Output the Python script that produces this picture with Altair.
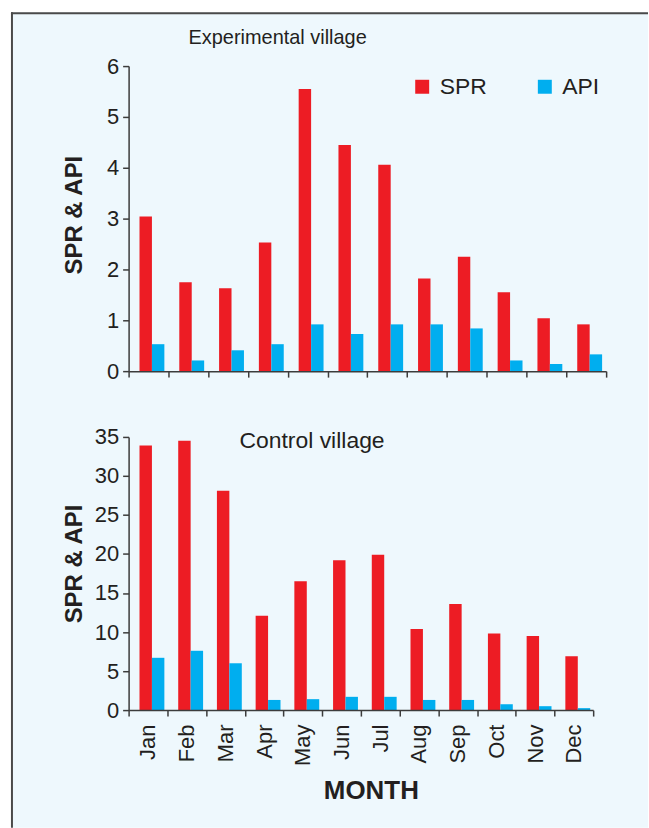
import altair as alt
import pandas as pd

# Monthly slide positivity rate (SPR) and annual parasite incidence (API)
months = ["Jan", "Feb", "Mar", "Apr", "May", "Jun",
          "Jul", "Aug", "Sep", "Oct", "Nov", "Dec"]
series = ["SPR", "API"]

exp_spr = [3.04, 1.75, 1.63, 2.53, 5.55, 4.45, 4.06, 1.82, 2.25, 1.55, 1.04, 0.92]
exp_api = [0.53, 0.21, 0.41, 0.53, 0.92, 0.73, 0.92, 0.92, 0.84, 0.21, 0.14, 0.33]

ctl_spr = [33.9, 34.5, 28.1, 12.1, 16.5, 19.2, 19.9, 10.4, 13.6, 9.8, 9.5, 6.9]
ctl_api = [6.7, 7.6, 6.0, 1.3, 1.4, 1.7, 1.7, 1.3, 1.3, 0.75, 0.5, 0.25]

RED = "#ED1C24"
BLUE = "#00AEEF"
PANEL_BG = "#EEF8FD"
INK = "#231F20"
AXIS = "#3C3C3C"
FONT = "Liberation Sans"


def long_table(spr, api):
    rows = []
    for m, s, a in zip(months, spr, api):
        rows.append({"month": m, "series": "SPR", "value": s})
        rows.append({"month": m, "series": "API", "value": a})
    return pd.DataFrame(rows)


def bars(df, width, height, ymax, ystep, show_labels, legend):
    x_axis = alt.Axis(
        title="MONTH" if show_labels else None,
        labels=show_labels,
        tickBand="extent",
        tickSize=6,
        tickWidth=1.5,
        tickColor=AXIS,
        domainColor=AXIS,
        domainWidth=1.5,
        labelAngle=270,
        labelAlign="right",
        labelBaseline="middle",
        labelFontSize=22,
        labelColor=INK,
        labelPadding=8,
        titleFontSize=26,
        titleFontWeight="bold",
        titleColor=INK,
        titleX=243,
        titleY=89,
        titleBaseline="alphabetic",
        titleAlign="center",
        zindex=1,
        grid=False,
    )
    y_axis = alt.Axis(
        title="SPR & API",
        values=list(range(0, ymax + 1, ystep)),
        tickSize=6,
        tickWidth=1.5,
        tickColor=AXIS,
        domainColor=AXIS,
        domainWidth=1.5,
        labelFontSize=22,
        labelColor=INK,
        labelPadding=4,
        titleFontSize=24,
        titleFontWeight="bold",
        titleColor=INK,
        titleAngle=270,
        titleBaseline="alphabetic",
        titleAlign="center",
        titleX=-47,
        titleY=height / 2 - (4 if ymax < 10 else 10),
        zindex=1,
        grid=False,
    )
    return alt.Chart(df).mark_bar().encode(
        x=alt.X("month:N", sort=months,
                scale=alt.Scale(paddingInner=0, paddingOuter=0),
                axis=x_axis),
        xOffset=alt.XOffset("series:N", sort=series,
                            scale=alt.Scale(paddingInner=0, paddingOuter=0.6,
                                            align=0.73)),
        y=alt.Y("value:Q", scale=alt.Scale(domain=[0, ymax], nice=False,
                                           zero=True),
                axis=y_axis),
        color=alt.Color("series:N",
                        scale=alt.Scale(domain=series, range=[RED, BLUE]),
                        legend=legend),
    ).properties(width=width, height=height)


one = pd.DataFrame({"k": [0]})

# light panel with its left and top frame lines
panel = alt.Chart(one).mark_rect(color=PANEL_BG).encode(
    x=alt.value(-118), x2=alt.value(521),
    y=alt.value(-54), y2=alt.value(764),
)
frame_left = alt.Chart(one).mark_rule(color="#4A4A4A", strokeWidth=2).encode(
    x=alt.value(-117), y=alt.value(-54), y2=alt.value(764),
)
frame_top = alt.Chart(one).mark_rule(color="#4A4A4A", strokeWidth=2).encode(
    y=alt.value(-53), x=alt.value(-118), x2=alt.value(521),
)

legend = alt.Legend(
    title=None,
    orient="none",
    legendX=283,
    legendY=9,
    direction="horizontal",
    symbolType="square",
    symbolSize=196,
    symbolStrokeWidth=0,
    labelFontSize=23,
    labelColor=INK,
    labelOffset=6,
    columnPadding=46,
    padding=0,
    zindex=1,
)

exp_bars = bars(long_table(exp_spr, exp_api), 479, 306, 6, 1, False, legend)
exp_title = alt.Chart(one).mark_text(
    text="Experimental village", font=FONT, fontSize=20, color=INK,
    align="center", baseline="alphabetic",
).encode(x=alt.value(149.5), y=alt.value(-22))

top = alt.layer(panel, exp_bars, exp_title, frame_left, frame_top)

ctl_bars = bars(long_table(ctl_spr, ctl_api), 466, 274, 35, 5, True, None)
ctl_title = alt.Chart(one).mark_text(
    text="Control village", font=FONT, fontSize=23, color=INK,
    align="center", baseline="alphabetic",
).encode(x=alt.value(184), y=alt.value(11))

bottom = alt.layer(ctl_bars, ctl_title)

chart = alt.vconcat(top, bottom, spacing=66, bounds="flush").properties(
    background="white",
    padding={"left": 10, "top": 10, "right": 0, "bottom": 0},
).configure(font=FONT).configure_view(stroke=None)

chart.save("out.html", embed_options={"renderer": "svg", "actions": False})
